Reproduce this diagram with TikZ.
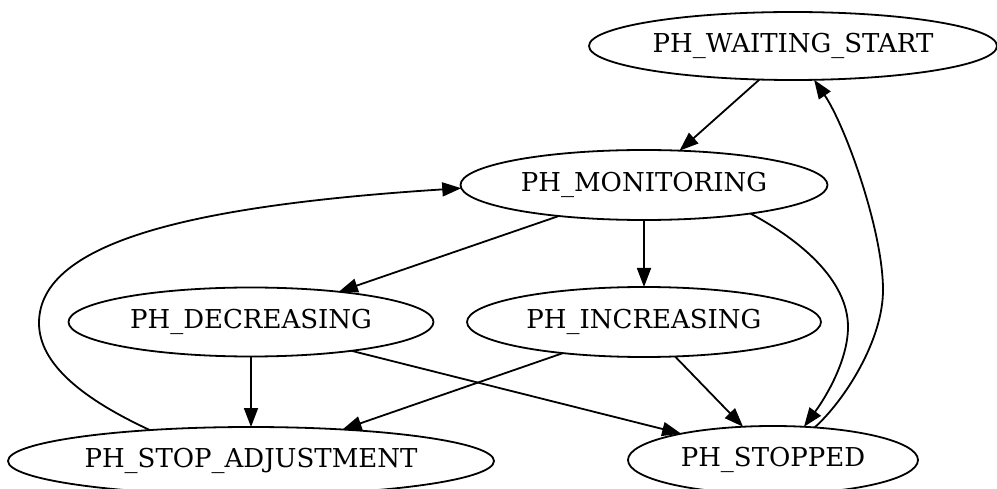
\documentclass[tikz,border=0pt]{standalone}
\usepackage{fontspec}
\setmainfont{DejaVu Serif}
\usetikzlibrary{shapes.geometric,arrows.meta}

% text box of zero width, so the ellipse size comes only from the style
\newcommand\statelabel[1]{\makebox[0pt]{#1}}

\begin{document}
\begin{tikzpicture}[x=1pt,y=-1pt,
  state/.style={ellipse, draw, line width=1.8pt, inner sep=0pt, outer sep=0pt,
    font=\fontsize{26}{30}\selectfont},
  edge/.style={line width=1.8pt, -{Triangle[length=19pt,width=14pt]}}]

  \fill[white] (0,0) rectangle (997,489);
  \useasboundingbox (0,0) rectangle (997,489);

  % states
  \node[state, minimum width=408pt, minimum height=68pt] (ws)  at (793,46)  {\statelabel{PH\_WAITING\_START}};
  \node[state, minimum width=367pt, minimum height=70pt] (mon) at (644,185) {\statelabel{PH\_MONITORING}};
  \node[state, minimum width=365pt, minimum height=69pt] (dec) at (251,322) {\statelabel{PH\_DECREASING}};
  \node[state, minimum width=354pt, minimum height=70pt] (inc) at (644,322) {\statelabel{PH\_INCREASING}};
  \node[state, minimum width=486pt, minimum height=68pt] (sa)  at (251,461) {\statelabel{PH\_STOP\_ADJUSTMENT}};
  \node[state, minimum width=290pt, minimum height=68pt] (st)  at (773,460) {\statelabel{PH\_STOPPED}};

  % transitions
  \draw[edge] (ws.225) -- (mon.44);
  \draw[edge] (mon.200.85) -- (dec.19.2);
  \draw[edge] (mon.south) -- (inc.north);
  \draw[edge] (mon.345) .. controls (800,240) and (848,280) .. (848,327)
                        .. controls (848,360) and (826,397) .. (st.47.7);
  \draw[edge] (dec.south) -- (sa.north);
  \draw[edge] (dec.344.2) -- (st.164.85);
  \draw[edge] (inc.201.1) -- (sa.19.8);
  \draw[edge] (inc.312.4) -- (st.132.4);
  \draw[edge] (sa.163) .. controls (85,400) and (39,365) .. (39,323)
                       .. controls (39,240) and (200,205) .. (mon.181);
  \draw[edge] (st.38.2) .. controls (845,400) and (883,340) .. (883,290)
                        .. controls (883,230) and (845,125) .. (ws.302);
\end{tikzpicture}
\end{document}
